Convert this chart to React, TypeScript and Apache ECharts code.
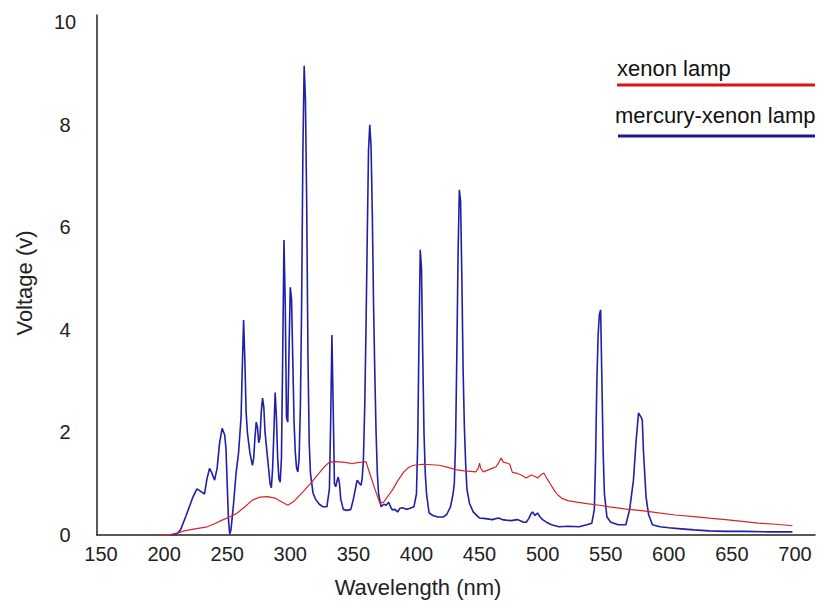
import React, { useEffect, useRef } from "react";
import * as echarts from "echarts";

const xTickValues = [150, 200, 250, 300, 350, 400, 450, 500, 550, 600, 650, 700];
const yTickValues = [0, 2, 4, 6, 8, 10];

const seriesNames = ["xenon lamp", "mercury-xenon lamp"];

// [wavelength nm, voltage V]
const xenon: [number, number][] = [
  [193, 0], [200, 0], [205, 0.01], [211, 0.04], [216, 0.08], [220, 0.1], [227, 0.13], [234, 0.16],
  [240, 0.22], [246, 0.29], [252, 0.35], [258, 0.43], [264, 0.55], [270, 0.68], [276, 0.74],
  [282, 0.75], [288, 0.72], [293, 0.65], [298, 0.58], [303, 0.66], [310, 0.84], [316, 1.0],
  [322, 1.18], [327, 1.33], [331, 1.42], [336, 1.43], [341, 1.42], [345, 1.41], [349, 1.39],
  [353, 1.41], [357, 1.42], [360, 1.43], [363, 1.2], [367, 0.9], [371, 0.62], [374, 0.64],
  [378, 0.78], [381, 0.88], [385, 1.05], [390, 1.23], [394, 1.32], [398, 1.36], [405, 1.38],
  [412, 1.37], [418, 1.36], [425, 1.32], [432, 1.27], [438, 1.25], [443, 1.24], [447, 1.23],
  [449, 1.3], [450, 1.4], [451, 1.3], [453, 1.23], [457, 1.27], [460, 1.3], [463, 1.33],
  [465, 1.4], [467, 1.5], [469, 1.42], [472, 1.4], [474, 1.38], [476, 1.22], [480, 1.2],
  [483, 1.17], [487, 1.11], [491, 1.17], [494, 1.14], [496, 1.11], [499, 1.18], [501, 1.21],
  [503, 1.12], [506, 1.0], [509, 0.88], [512, 0.78], [515, 0.72], [520, 0.67], [527, 0.64],
  [535, 0.61], [545, 0.58], [553, 0.55], [565, 0.51], [580, 0.47], [592, 0.43], [605, 0.39],
  [620, 0.36], [632, 0.33], [645, 0.3], [660, 0.26], [671, 0.23], [685, 0.21], [698, 0.18],
];

const mercuryXenon: [number, number][] = [
  [205, 0], [210, 0.02], [213, 0.1], [217, 0.35], [220, 0.55], [223, 0.75], [226, 0.9],
  [229, 0.85], [232, 0.8], [234, 1.1], [236, 1.3], [238, 1.2], [240, 1.07], [242, 1.3],
  [244, 1.8], [246, 2.08], [248, 1.95], [249, 1.7], [250, 1.0], [251, 0.3], [252, 0.02],
  [253, 0.1], [255, 0.6], [257, 1.2], [259, 1.6], [261, 2.3], [262, 3.3], [263, 4.19],
  [264, 3.4], [265, 2.4], [266, 2.0], [268, 1.6], [270, 1.36], [271, 1.5], [272, 1.9],
  [273, 2.2], [274, 2.1], [275, 1.8], [276, 1.9], [277, 2.4], [278, 2.67], [279, 2.5],
  [280, 2.0], [282, 1.5], [284, 1.0], [285, 0.92], [286, 1.3], [287, 2.0], [288, 2.78],
  [289, 2.3], [290, 1.5], [291, 1.1], [292, 1.03], [293, 1.5], [294, 3.5], [295, 5.75],
  [296, 4.5], [297, 2.3], [298, 2.2], [299, 3.6], [300, 4.83], [301, 4.6], [302, 3.4],
  [303, 2.2], [304, 1.6], [305, 1.3], [306, 1.23], [307, 1.5], [308, 2.5], [309, 4.5],
  [310, 7.5], [311, 9.15], [312, 8.5], [313, 6.5], [314, 3.5], [315, 1.8], [316, 1.2],
  [318, 0.82], [320, 0.7], [323, 0.6], [326, 0.55], [329, 0.55], [331, 0.9], [332, 2.2],
  [333, 3.9], [334, 2.5], [335, 1.0], [336, 0.94], [337, 1.05], [338, 1.13], [339, 1.0],
  [340, 0.7], [342, 0.5], [345, 0.48], [348, 0.5], [350, 0.7], [352, 0.95], [353, 1.07],
  [355, 1.0], [356, 0.97], [357, 1.1], [358, 1.5], [359, 2.5], [360, 4.0], [361, 5.8],
  [362, 7.5], [363, 8.0], [364, 7.6], [365, 6.3], [366, 4.5], [367, 3.16], [368, 2.0],
  [369, 1.2], [370, 0.8], [372, 0.55], [374, 0.6], [376, 0.58], [378, 0.64], [380, 0.52],
  [381, 0.49], [383, 0.5], [385, 0.45], [387, 0.52], [389, 0.53], [392, 0.5], [395, 0.52],
  [398, 0.55], [400, 0.8], [401, 1.8], [402, 3.8], [403, 5.56], [404, 5.2], [405, 3.5],
  [406, 1.98], [407, 1.2], [408, 0.8], [410, 0.43], [413, 0.38], [417, 0.35], [421, 0.35],
  [424, 0.4], [427, 0.55], [429, 0.8], [430, 1.0], [431, 1.8], [432, 3.5], [433, 5.5],
  [434, 6.73], [435, 6.5], [436, 5.0], [437, 3.2], [438, 2.1], [439, 1.4], [440, 0.9],
  [442, 0.62], [445, 0.45], [450, 0.33], [455, 0.32], [460, 0.3], [465, 0.33], [468, 0.3],
  [471, 0.29], [475, 0.28], [480, 0.3], [485, 0.25], [487, 0.25], [489, 0.32], [491, 0.42],
  [492, 0.45], [494, 0.38], [496, 0.43], [498, 0.35], [500, 0.3], [503, 0.25], [507, 0.2],
  [513, 0.16], [520, 0.17], [529, 0.16], [535, 0.2], [539, 0.23], [541, 0.5], [542, 1.5],
  [543, 3.0], [544, 3.9], [545, 4.3], [546, 4.39], [547, 3.0], [548, 1.6], [549, 0.8],
  [551, 0.35], [554, 0.25], [560, 0.2], [566, 0.2], [569, 0.5], [572, 1.07], [574, 1.8],
  [576, 2.38], [578, 2.3], [579, 2.24], [580, 1.6], [582, 0.74], [584, 0.4], [587, 0.2],
  [593, 0.16], [600, 0.14], [610, 0.12], [620, 0.1], [632, 0.08], [645, 0.07], [660, 0.07],
  [680, 0.06], [698, 0.06],
];

const FONT = "'Liberation Sans', Arial, sans-serif";
const RED = "#d42626";
const BLUE = "#2020a6";

export default function App() {
  const ref = useRef<HTMLDivElement>(null);
  useEffect(() => {
    document.body.style.margin = "0";
    if (!ref.current) return;
    const chart = echarts.init(ref.current, null, { renderer: "svg" });
    chart.setOption({
      animation: false,
      backgroundColor: "#ffffff",
      grid: { left: 97, top: 15, right: 4, bottom: 66, containLabel: false },
      xAxis: {
        type: "value",
        min: 146.8,
        max: 715.9,
        axisLine: { show: true, onZero: false, lineStyle: { color: "#222", width: 1.5 } },
        axisTick: { show: false },
        splitLine: { show: false },
        axisLabel: {
          customValues: xTickValues,
          color: "#222",
          fontSize: 20,
          fontFamily: FONT,
          margin: 9,
        },
      },
      yAxis: {
        type: "value",
        min: 0,
        max: 10.14,
        axisLine: { show: true, lineStyle: { color: "#222", width: 1.5 } },
        axisTick: { show: false },
        splitLine: { show: false },
        axisLabel: {
          customValues: yTickValues,
          color: "#222",
          fontSize: 20,
          fontFamily: FONT,
          margin: 32,
          align: "center",
        },
      },
      series: [
        {
          name: seriesNames[0],
          type: "line",
          data: xenon,
          showSymbol: false,
          smooth: false,
          lineStyle: { color: RED, width: 1.2 },
          z: 3,
        },
        {
          name: seriesNames[1],
          type: "line",
          data: mercuryXenon,
          showSymbol: false,
          smooth: false,
          lineStyle: { color: BLUE, width: 1.6 },
          z: 2,
        },
      ],
      graphic: [
        {
          type: "text",
          left: 617,
          top: 57,
          style: { text: seriesNames[0], fontSize: 22, fontFamily: FONT, fill: "#111" },
        },
        {
          type: "line",
          shape: { x1: 617, y1: 85, x2: 815, y2: 85 },
          style: { stroke: "#d81414", lineWidth: 3 },
        },
        {
          type: "text",
          left: 615,
          top: 104,
          style: { text: seriesNames[1], fontSize: 22, fontFamily: FONT, fill: "#111" },
        },
        {
          type: "line",
          shape: { x1: 618, y1: 136, x2: 815, y2: 136 },
          style: { stroke: "#1a1a8c", lineWidth: 3 },
        },
        {
          type: "text",
          x: 418,
          y: 587,
          style: {
            text: "Wavelength (nm)",
            fontSize: 22,
            fontFamily: FONT,
            fill: "#222",
            align: "center",
            verticalAlign: "middle",
          },
        },
        {
          type: "text",
          x: 24,
          y: 283,
          rotation: Math.PI / 2,
          style: {
            text: "Voltage (v)",
            fontSize: 22,
            fontFamily: FONT,
            fill: "#222",
            align: "center",
            verticalAlign: "middle",
          },
        },
      ],
    });
    return () => chart.dispose();
  }, []);
  return <div ref={ref} style={{ width: 819, height: 601 }} />;
}
